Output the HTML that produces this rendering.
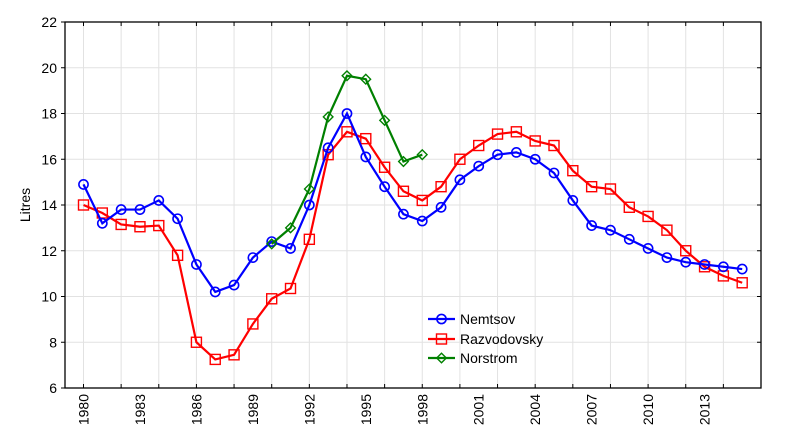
<!DOCTYPE html>
<html><head><meta charset="utf-8"><style>body{margin:0;background:#fff}svg{display:block;font-family:"Liberation Sans",Arial,sans-serif}</style></head>
<body>
<svg id="s" width="786" height="437" viewBox="0 0 786 437" xmlns="http://www.w3.org/2000/svg"></svg>
<script>
const s=document.getElementById('s');
const X=y=>83.5+(y-1980)*18.82, Y=v=>22+(22-v)*22.875;
let h='';
for(let yr=1980;yr<=2014;yr+=2){const x=X(yr);h+=`<line x1="${x}" y1="22" x2="${x}" y2="388" stroke="#e2e2e2"/>`;h+=`<line x1="${x}" y1="22" x2="${x}" y2="26" stroke="#000"/><line x1="${x}" y1="388" x2="${x}" y2="384" stroke="#000"/>`;}
for(let v=8;v<=20;v+=2){const y=Y(v);h+=`<line x1="65" y1="${y}" x2="761" y2="${y}" stroke="#e2e2e2"/>`;}
for(let v=6;v<=22;v+=2){const y=Y(v);h+=`<line x1="61" y1="${y}" x2="65" y2="${y}" stroke="#000"/><line x1="761" y1="${y}" x2="757" y2="${y}" stroke="#000"/><text x="57" y="${y+5}" font-size="14" text-anchor="end">${v}</text>`;}
h+=`<rect x="65" y="22" width="696" height="366" fill="none" stroke="#000" stroke-width="1.3"/>`;
for(let yr=1980;yr<=2013;yr+=3){const x=X(yr);h+=`<text transform="translate(${x+5},${394}) rotate(-90)" font-size="14" text-anchor="end">${yr}</text>`;}
h+=`<text transform="translate(30,205) rotate(-90)" font-size="14" text-anchor="middle">Litres</text>`;
const N=[14.9,13.2,13.8,13.8,14.2,13.4,11.4,10.2,10.5,11.7,12.4,12.1,14.0,16.5,18.0,16.1,14.8,13.6,13.3,13.9,15.1,15.7,16.2,16.3,16.0,15.4,14.2,13.1,12.9,12.5,12.1,11.7,11.5,11.4,11.3,11.2];
const R=[14.0,13.65,13.15,13.05,13.1,11.8,8.0,7.25,7.45,8.8,9.9,10.35,12.5,16.2,17.2,16.9,15.65,14.6,14.2,14.8,16.0,16.6,17.1,17.2,16.8,16.6,15.5,14.8,14.7,13.9,13.5,12.9,12.0,11.3,10.9,10.6];
const S=[12.3,13.0,14.7,17.85,19.65,19.5,17.7,15.9,16.2];
function mk(t,x,y,c){if(t=='c')return `<circle cx="${x}" cy="${y}" r="4.6" fill="none" stroke="${c}" stroke-width="1.6"/>`;
if(t=='s')return `<rect x="${x-5}" y="${y-5}" width="10" height="10" fill="none" stroke="${c}" stroke-width="1.4"/>`;
return `<polygon points="${x},${y-4.8} ${x+4.8},${y} ${x},${y+4.8} ${x-4.8},${y}" fill="none" stroke="${c}" stroke-width="1.4"/>`;}
function ser(d,y0,c,t){const p=d.map((v,i)=>[X(y0+i),Y(v)]);let o=`<polyline points="${p.map(q=>q.join(',')).join(' ')}" fill="none" stroke="${c}" stroke-width="2.2"/>`;p.forEach(q=>o+=mk(t,q[0],q[1],c));return o;}
h+=ser(R,1980,'#ff0000','s');h+=ser(N,1980,'#0000ff','c');h+=ser(S,1990,'#008000','d');
[['Nemtsov','#0000ff','c',319],['Razvodovsky','#ff0000','s',339],['Norstrom','#008000','d',358]].forEach(([n,c,t,y])=>{h+=`<line x1="428" y1="${y}" x2="455" y2="${y}" stroke="${c}" stroke-width="2.2"/>`+mk(t,441.5,y,c)+`<text x="460" y="${y+5}" font-size="14">${n}</text>`;});
s.innerHTML=h;
</script>
</body></html>
